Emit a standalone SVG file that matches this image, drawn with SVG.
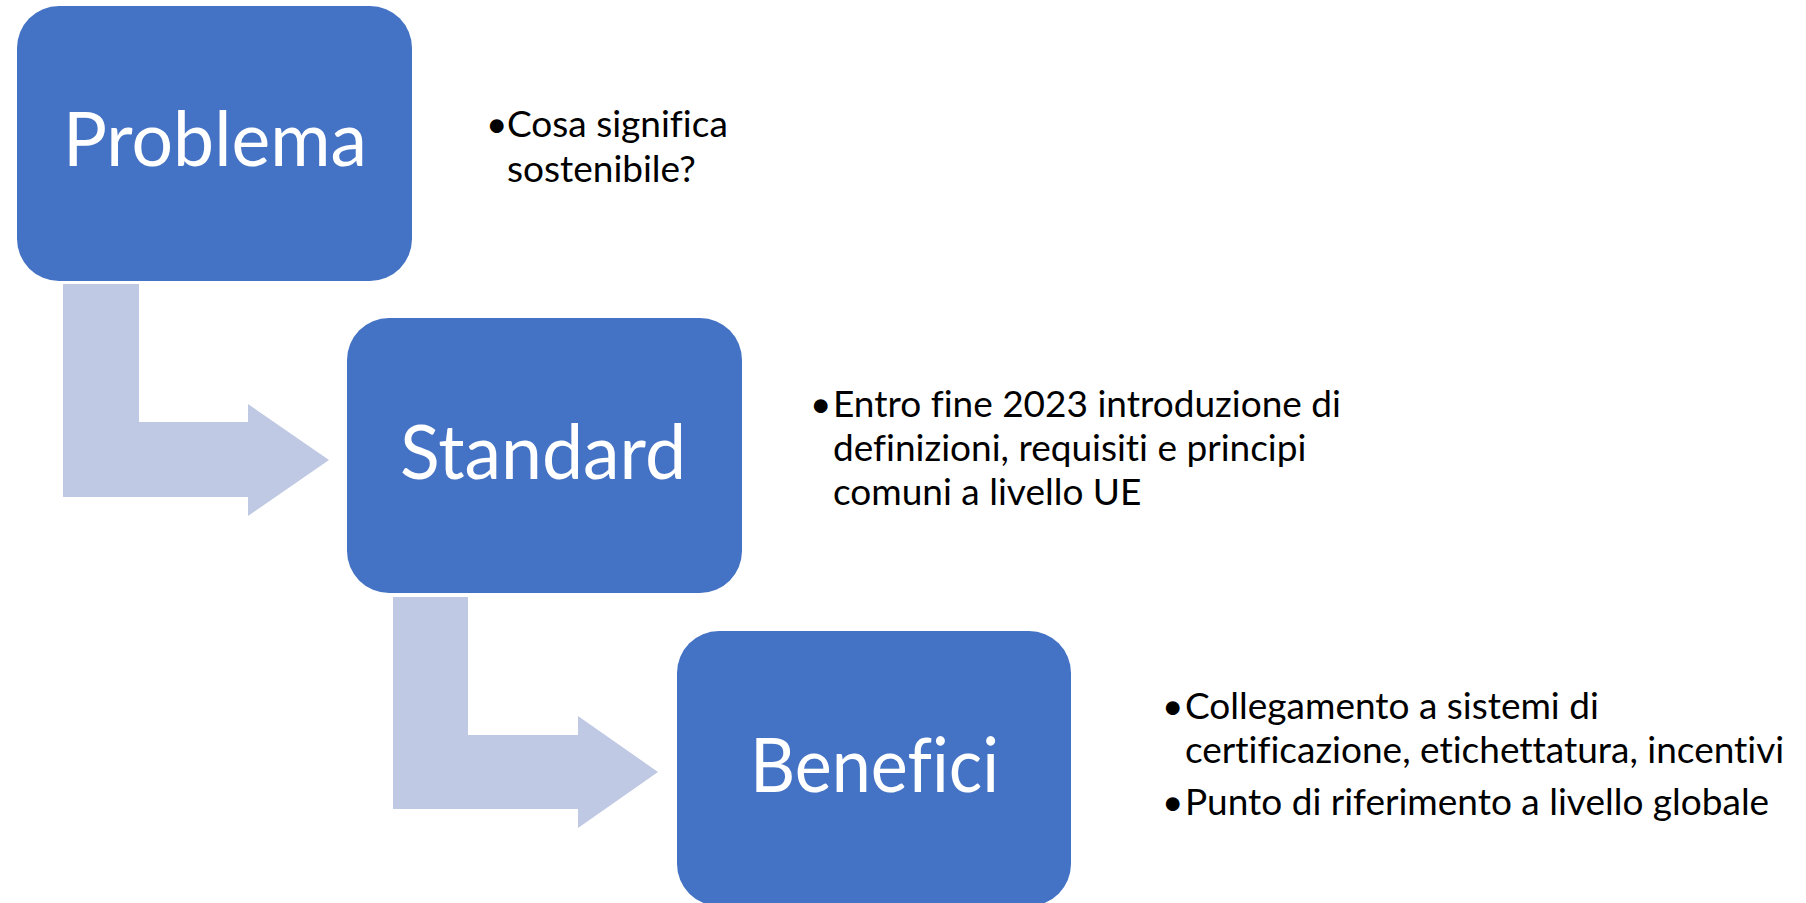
<svg xmlns="http://www.w3.org/2000/svg" width="1806" height="903" viewBox="0 0 1806 903">
<style>
.box{fill:#4472C4}
.arrow{fill:#BFC9E3}
.title{font-family:Lato,"Liberation Sans",sans-serif;font-size:75px;fill:#fff;text-anchor:middle;font-variant-ligatures:none}
.txt{font-family:Lato,"Liberation Sans",sans-serif;font-size:37px;fill:#000;font-variant-ligatures:none}
</style>
<rect width="1806" height="903" fill="#fff"/>
<g id="connectors">
<path class="arrow" d="M63,284 H139 V422 H248 V404 L329,460 L248,516 V497 H63 Z"/>
<path class="arrow" d="M393,597 H468 V735 H578 V716 L658,772 L578,828 V809 H393 Z"/>
</g>
<g id="node-problema">
<rect class="box" x="17" y="6" width="395" height="275" rx="42"/>
<text class="title" x="215" y="166" textLength="304" lengthAdjust="spacingAndGlyphs">Problema</text>
</g>
<g id="node-standard">
<rect class="box" x="347" y="318" width="395" height="275" rx="42"/>
<text class="title" x="543" y="479" textLength="286" lengthAdjust="spacingAndGlyphs">Standard</text>
</g>
<g id="node-benefici">
<rect class="box" x="677" y="631" width="394" height="275" rx="42"/>
<text class="title" x="874.5" y="792" textLength="249" lengthAdjust="spacingAndGlyphs">Benefici</text>
</g>
<g id="text-problema">
<text class="txt" x="486" y="137">•</text>
<text class="txt" x="507" y="137">Cosa significa</text>
<text class="txt" x="507" y="182">sostenibile?</text>
</g>
<g id="text-standard">
<text class="txt" x="810" y="417">•</text>
<text class="txt" x="833" y="417">Entro fine 2023 introduzione di</text>
<text class="txt" x="833" y="461">definizioni, requisiti e principi</text>
<text class="txt" x="833" y="505">comuni a livello UE</text>
</g>
<g id="text-benefici">
<text class="txt" x="1162" y="719">•</text>
<text class="txt" x="1185" y="719">Collegamento a sistemi di</text>
<text class="txt" x="1185" y="763">certificazione, etichettatura, incentivi</text>
<text class="txt" x="1162" y="815">•</text>
<text class="txt" x="1185" y="815">Punto di riferimento a livello globale</text>
</g>
</svg>
